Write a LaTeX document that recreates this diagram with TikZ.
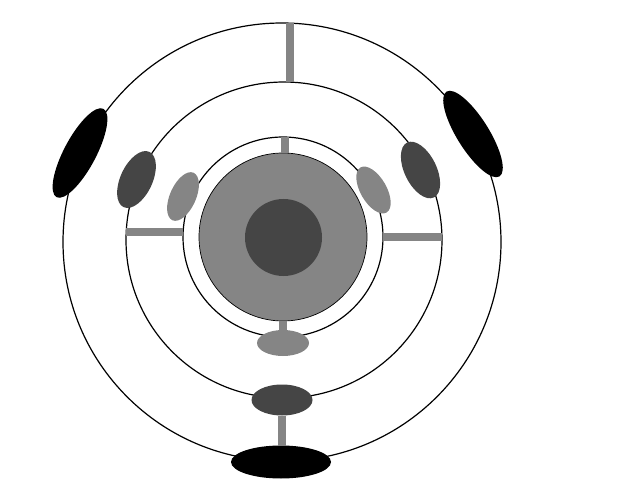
\documentclass[tikz,border=0pt]{standalone}
\usetikzlibrary{shapes.geometric}
\definecolor{spokegray}{gray}{0.52}
\definecolor{coregray}{gray}{0.27}
\begin{document}
\begin{tikzpicture}[x=1pt,y=1pt,
    ring/.style={circle,draw=black,line width=1.2pt,inner sep=0pt,outer sep=0pt},
    bead/.style={ellipse,inner sep=0pt,outer sep=0pt},
    bar/.style={draw=spokegray,line width=8pt}]
    \useasboundingbox (0,0) rectangle (640,480);

    % rings
    \node[ring,minimum size=438pt] (outer) at (282,238) {};
    \node[ring,minimum size=316pt] (middle) at (284,240) {};
    \node[ring,minimum size=200pt] (inner) at (283,243) {};
    \node[ring,fill=spokegray,line width=0.7pt,minimum size=168pt] (disk) at (283,243) {};
    \node[circle,fill=coregray,inner sep=0pt,minimum size=77pt] (core) at (283.5,242.5) {};

    % beads on the rings
    \node[bead,fill=black,minimum width=100pt,minimum height=32pt,rotate=62] (outerL) at (80,327) {};
    \node[bead,fill=black,minimum width=100pt,minimum height=32pt,rotate=-58] (outerR) at (473,346) {};
    \node[bead,fill=black,minimum width=100pt,minimum height=33pt] (outerB) at (281,18) {};
    \node[bead,fill=coregray,minimum width=61pt,minimum height=32pt,rotate=65] (midL) at (136.5,300.5) {};
    \node[bead,fill=coregray,minimum width=61pt,minimum height=32pt,rotate=-64] (midR) at (420.5,310) {};
    \node[bead,fill=coregray,minimum width=61pt,minimum height=31pt] (midB) at (282,80) {};
    \node[bead,fill=spokegray,minimum width=52pt,minimum height=26pt,rotate=66] (innL) at (183,283.5) {};
    \node[bead,fill=spokegray,minimum width=52pt,minimum height=26pt,rotate=-60] (innR) at (373.5,290) {};
    \node[bead,fill=spokegray,minimum width=52pt,minimum height=26pt] (innB) at (283,137) {};

    % spokes
    \draw[bar] (outer.88.7) -- (outer.88.7 |- middle.north);
    \draw[bar] (inner.89) -- (inner.89 |- disk.north);
    \draw[bar] (middle.177.6) -- (inner.west |- middle.177.6);
    \draw[bar] (inner.east) -- (middle.east |- inner.east);
    \draw[bar] (disk.south) -- (disk.south |- innB.north);
    \draw[bar] (midB.south) -- (midB.south |- outerB.north);
\end{tikzpicture}
\end{document}
